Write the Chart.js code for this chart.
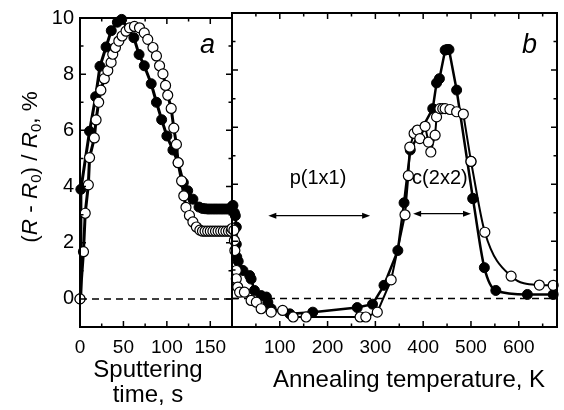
<!DOCTYPE html>
<html>
<head>
<meta charset="utf-8">
<script src="https://cdn.jsdelivr.net/npm/chart.js@4"></script>
<style>
html,body{margin:0;padding:0;background:#fff;}
#wrap{position:relative;width:564px;height:410px;}
#wrap canvas{position:absolute;left:0;top:0;}
</style>
</head>
<body>
<div id="wrap">
  <canvas id="chartA" width="564" height="410"></canvas>
  <canvas id="chartB" width="564" height="410"></canvas>
</div>
<script>
// ===============================
// DATA
// ===============================

// panel a : sputtering time, s
const spTimeFilled = [0, 1, 11, 18, 23, 30, 36, 43, 48, 62, 68, 74, 82, 88, 94, 100, 107, 113, 119, 124, 130, 137, 141, 144, 147, 150, 153, 156, 159, 162, 165, 168, 171, 174];
const spValFilled  = [0, 3.9, 5.97, 7.2, 8.28, 8.97, 9.55, 9.85, 9.95, 9.3, 8.7, 8.3, 7.66, 7.0, 6.38, 5.8, 5.3, 4.85, 4.14, 3.85, 3.55, 3.27, 3.22, 3.21, 3.2, 3.2, 3.2, 3.2, 3.2, 3.2, 3.2, 3.2, 3.2, 3.2];

const spTimeOpen = [0, 4, 6, 9.6, 11, 16.5, 18.5, 21.5, 24, 28, 32, 35.8, 37.7, 40.8, 44.7, 48.5, 53, 57, 62.7, 68.5, 74, 78, 84, 88, 91.6, 95.5, 98.5, 101, 105, 108, 111, 113, 117, 119.5, 122, 126, 130, 134, 138, 141, 144, 147, 150, 153, 156, 159, 162, 165, 168, 171, 174];
const spValOpen  = [0, 1.68, 3.05, 4.06, 5.03, 5.73, 6.37, 7.0, 7.43, 7.84, 8.13, 8.42, 8.71, 8.95, 9.18, 9.36, 9.53, 9.65, 9.7, 9.65, 9.47, 9.24, 8.95, 8.65, 8.3, 8.01, 7.6, 7.25, 6.78, 6.08, 5.5, 4.85, 4.2, 3.67, 3.26, 2.97, 2.74, 2.56, 2.45, 2.41, 2.41, 2.41, 2.41, 2.41, 2.41, 2.41, 2.41, 2.41, 2.41, 2.41, 2.41];

// panel b : annealing temperature, K
const anTempFilled = [0, 2, 5, 7, 9, 9, 10, 13, 23, 37, 40, 47, 61, 72, 75, 82, 121, 169, 262, 294, 318, 347, 360, 373, 420, 428, 434, 446, 450, 454, 470, 504];
const anValFilled  = [3.22, 3.26, 3.0, 2.9, 2.5, 1.9, 1.45, 1.3, 0.98, 0.8, 0.68, 0.28, 0.1, 0.05, -0.13, -0.36, -0.54, -0.48, -0.32, -0.2, 0.46, 1.68, 3.35, 5.2, 6.65, 7.55, 7.7, 8.7, 8.72, 8.72, 7.3, 3.5];
const anTailTempFilled = [504, 528, 552, 618, 672];
const anTailValFilled  = [3.5, 1.08, 0.28, 0.14, 0.14];

const anTempOpen = [0, 4, 5, 6, 9, 9, 12, 16, 26, 40, 51, 61, 82, 106, 128, 155, 268, 280, 304, 333, 362, 369, 372, 381, 388, 393, 404, 411, 416, 425, 428, 435, 441, 446, 456, 470, 484, 500];
const anValOpen  = [2.45, 2.39, 2.03, 1.68, 0.98, 0.69, 0.4, 0.22, 0.22, -0.07, -0.13, -0.36, -0.48, -0.42, -0.65, -0.65, -0.65, -0.65, -0.48, 0.65, 2.93, 4.3, 5.3, 5.78, 5.9, 5.6, 6.03, 5.48, 5.13, 5.72, 6.36, 6.65, 6.65, 6.65, 6.62, 6.54, 6.46, 4.8];
const anTailTempOpen = [500, 529, 584, 643, 672];
const anTailValOpen  = [4.8, 2.32, 0.78, 0.47, 0.46];

// ticks
const yTicks  = [0, 2, 4, 6, 8, 10];
const spTicks = [0, 50, 100, 150];
const anTicks = [100, 200, 300, 400, 500, 600];

// phase markers (from K, to K, level %)
const p11Arrow = [76, 289, 2.9];
const c22Arrow = [379, 500, 2.97];
const p11Label = [180, 4.2];
const c22Label = [435, 4.2];

// ===============================
// HELPERS
// ===============================

const FONT = '"Liberation Sans", Arial, Helvetica, sans-serif';
Chart.defaults.font.family = FONT;
Chart.defaults.color = '#000';

function pts(xs, ys){
  return xs.map((x, i) => ({ x: x, y: ys[i] }));
}

function filledSet(data, width, tension){
  return {
    data: data,
    borderColor: '#000',
    borderWidth: width,
    pointRadius: 5,
    pointBackgroundColor: '#000',
    pointBorderColor: '#000',
    pointBorderWidth: 1,
    showLine: true,
    tension: tension || 0,
    cubicInterpolationMode: tension ? 'monotone' : 'default',
    clip: false
  };
}

function openSet(data, width, tension){
  return {
    data: data,
    borderColor: '#000',
    borderWidth: width,
    pointRadius: 5,
    pointBackgroundColor: '#fff',
    pointBorderColor: '#000',
    pointBorderWidth: 1.2,
    showLine: true,
    tension: tension || 0,
    cubicInterpolationMode: tension ? 'monotone' : 'default',
    clip: false
  };
}

function setTicks(list){
  return s => { s.ticks = list.map(v => ({ value: v })); };
}

function zeroLine(chart){
  const { ctx, chartArea: a, scales: { y } } = chart;
  const py = y.getPixelForValue(0);
  ctx.save();
  ctx.strokeStyle = '#000';
  ctx.lineWidth = 1.5;
  ctx.setLineDash([7, 5]);
  ctx.beginPath();
  ctx.moveTo(a.left, py);
  ctx.lineTo(a.right, py);
  ctx.stroke();
  ctx.restore();
}

function frameAndTicks(chart, xStep, xMajor){
  const { ctx, chartArea: a, scales: { x, y } } = chart;
  ctx.save();
  ctx.strokeStyle = '#000';
  ctx.lineWidth = 1.5;
  ctx.beginPath();
  for(let v = x.min; v <= x.max; v += xStep){
    const px = x.getPixelForValue(v);
    if(px <= a.left + 1 || px >= a.right - 1) continue;
    const len = (v % xMajor === 0) ? 6 : 3.5;
    ctx.moveTo(px, a.bottom); ctx.lineTo(px, a.bottom - len);
    ctx.moveTo(px, a.top);    ctx.lineTo(px, a.top + len);
  }
  for(let v = Math.ceil(y.min); v <= y.max; v += 1){
    const py = y.getPixelForValue(v);
    if(py <= a.top + 1 || py >= a.bottom - 1) continue;
    const len = (v % 2 === 0) ? 6 : 3.5;
    ctx.moveTo(a.left, py);  ctx.lineTo(a.left + len, py);
    ctx.moveTo(a.right, py); ctx.lineTo(a.right - len, py);
  }
  ctx.stroke();
  ctx.lineWidth = 2;
  ctx.strokeRect(a.left, a.top, a.right - a.left, a.bottom - a.top);
  ctx.restore();
}

function arrow(ctx, x1, x2, py){
  ctx.save();
  ctx.strokeStyle = '#000';
  ctx.fillStyle = '#000';
  ctx.lineWidth = 1.3;
  ctx.beginPath();
  ctx.moveTo(x1 + 4, py); ctx.lineTo(x2 - 4, py);
  ctx.stroke();
  [[x1, 1], [x2, -1]].forEach(([px, d]) => {
    ctx.beginPath();
    ctx.moveTo(px, py);
    ctx.lineTo(px + d * 8, py - 3);
    ctx.lineTo(px + d * 8, py + 3);
    ctx.closePath();
    ctx.fill();
  });
  ctx.restore();
}

function yTitle(ctx){
  const parts = [
    ['(', 'n'], ['R', 'i'], [' - ', 'n'], ['R', 'i'], ['0', 's'],
    [') / ', 'n'], ['R', 'i'], ['0', 's'], [', %', 'n']
  ];
  const fonts = { n: '22.5px ' + FONT, i: 'italic 22.5px ' + FONT, s: '15px ' + FONT };
  ctx.save();
  ctx.translate(37, 167);
  ctx.rotate(-Math.PI / 2);
  ctx.fillStyle = '#000';
  ctx.textBaseline = 'alphabetic';
  ctx.textAlign = 'left';
  let total = 0;
  parts.forEach(p => { ctx.font = fonts[p[1]]; total += ctx.measureText(p[0]).width; });
  let cx = -total / 2;
  parts.forEach(p => {
    ctx.font = fonts[p[1]];
    ctx.fillText(p[0], cx, p[1] === 's' ? 4 : 0);
    cx += ctx.measureText(p[0]).width;
  });
  ctx.restore();
}

// ===============================
// PANEL a
// ===============================

const panelA = {
  id: 'panelA',
  beforeDatasetsDraw(chart){ zeroLine(chart); },
  afterDraw(chart){
    const ctx = chart.ctx;
    frameAndTicks(chart, 25, 50);
    ctx.save();
    ctx.fillStyle = '#000';
    ctx.textAlign = 'center';
    ctx.textBaseline = 'alphabetic';
    ctx.font = '24px ' + FONT;
    ctx.fillText('Sputtering', 148, 377);
    ctx.fillText('time, s', 148, 402);
    ctx.font = 'italic 27px ' + FONT;
    ctx.textAlign = 'left';
    ctx.fillText('a', 200, 53);
    ctx.restore();
    yTitle(ctx);
  }
};

new Chart(document.getElementById('chartA'), {
  type: 'scatter',
  data: {
    datasets: [
      openSet(pts(spTimeOpen, spValOpen), 3),
      filledSet(pts(spTimeFilled, spValFilled), 3)
    ]
  },
  options: {
    responsive: false,
    animation: false,
    layout: { padding: { left: 0, right: 332, top: 13, bottom: 0 } },
    plugins: { legend: { display: false }, tooltip: { enabled: false } },
    scales: {
      x: {
        type: 'linear', min: 0, max: 175,
        grid: { display: false, drawTicks: false },
        border: { display: false },
        ticks: { font: { size: 19 }, padding: 9, maxRotation: 0 },
        afterBuildTicks: setTicks(spTicks),
        afterFit: s => { s.height = 83; }
      },
      y: {
        min: -1, max: 10,
        grid: { display: false, drawTicks: false },
        border: { display: false },
        ticks: { font: { size: 20 }, padding: 6 },
        afterBuildTicks: setTicks(yTicks),
        afterFit: s => { s.width = 80; }
      }
    }
  },
  plugins: [panelA]
});

// ===============================
// PANEL b
// ===============================

const panelB = {
  id: 'panelB',
  beforeDatasetsDraw(chart){ zeroLine(chart); },
  afterDraw(chart){
    const { ctx, scales: { x, y } } = chart;
    frameAndTicks(chart, 50, 100);
    arrow(ctx, x.getPixelForValue(p11Arrow[0]), x.getPixelForValue(p11Arrow[1]), y.getPixelForValue(p11Arrow[2]));
    arrow(ctx, x.getPixelForValue(c22Arrow[0]), x.getPixelForValue(c22Arrow[1]), y.getPixelForValue(c22Arrow[2]));
    ctx.save();
    ctx.fillStyle = '#000';
    ctx.textAlign = 'center';
    ctx.textBaseline = 'middle';
    ctx.font = '20px ' + FONT;
    ctx.fillText('p(1x1)', x.getPixelForValue(p11Label[0]), y.getPixelForValue(p11Label[1]));
    ctx.fillText('c(2x2)', x.getPixelForValue(c22Label[0]), y.getPixelForValue(c22Label[1]));
    ctx.textBaseline = 'alphabetic';
    ctx.font = '24px ' + FONT;
    ctx.fillText('Annealing temperature, K', 409, 387);
    ctx.font = 'italic 27px ' + FONT;
    ctx.textAlign = 'left';
    ctx.fillText('b', 522, 53);
    ctx.restore();
  }
};

new Chart(document.getElementById('chartB'), {
  type: 'scatter',
  data: {
    datasets: [
      openSet(pts(anTempOpen, anValOpen), 2),
      openSet(pts(anTailTempOpen, anTailValOpen), 2, 0.4),
      filledSet(pts(anTempFilled, anValFilled), 2.5),
      filledSet(pts(anTailTempFilled, anTailValFilled), 2.5, 0.4)
    ]
  },
  options: {
    responsive: false,
    animation: false,
    layout: { padding: { left: 232, right: 7, top: 13, bottom: 0 } },
    plugins: { legend: { display: false }, tooltip: { enabled: false } },
    scales: {
      x: {
        type: 'linear', min: 0, max: 680,
        grid: { display: false, drawTicks: false },
        border: { display: false },
        ticks: { font: { size: 19 }, padding: 9, maxRotation: 0 },
        afterBuildTicks: setTicks(anTicks),
        afterFit: s => { s.height = 83; }
      },
      y: {
        display: false,
        min: -1, max: 10
      }
    }
  },
  plugins: [panelB]
});
</script>
</body>
</html>
